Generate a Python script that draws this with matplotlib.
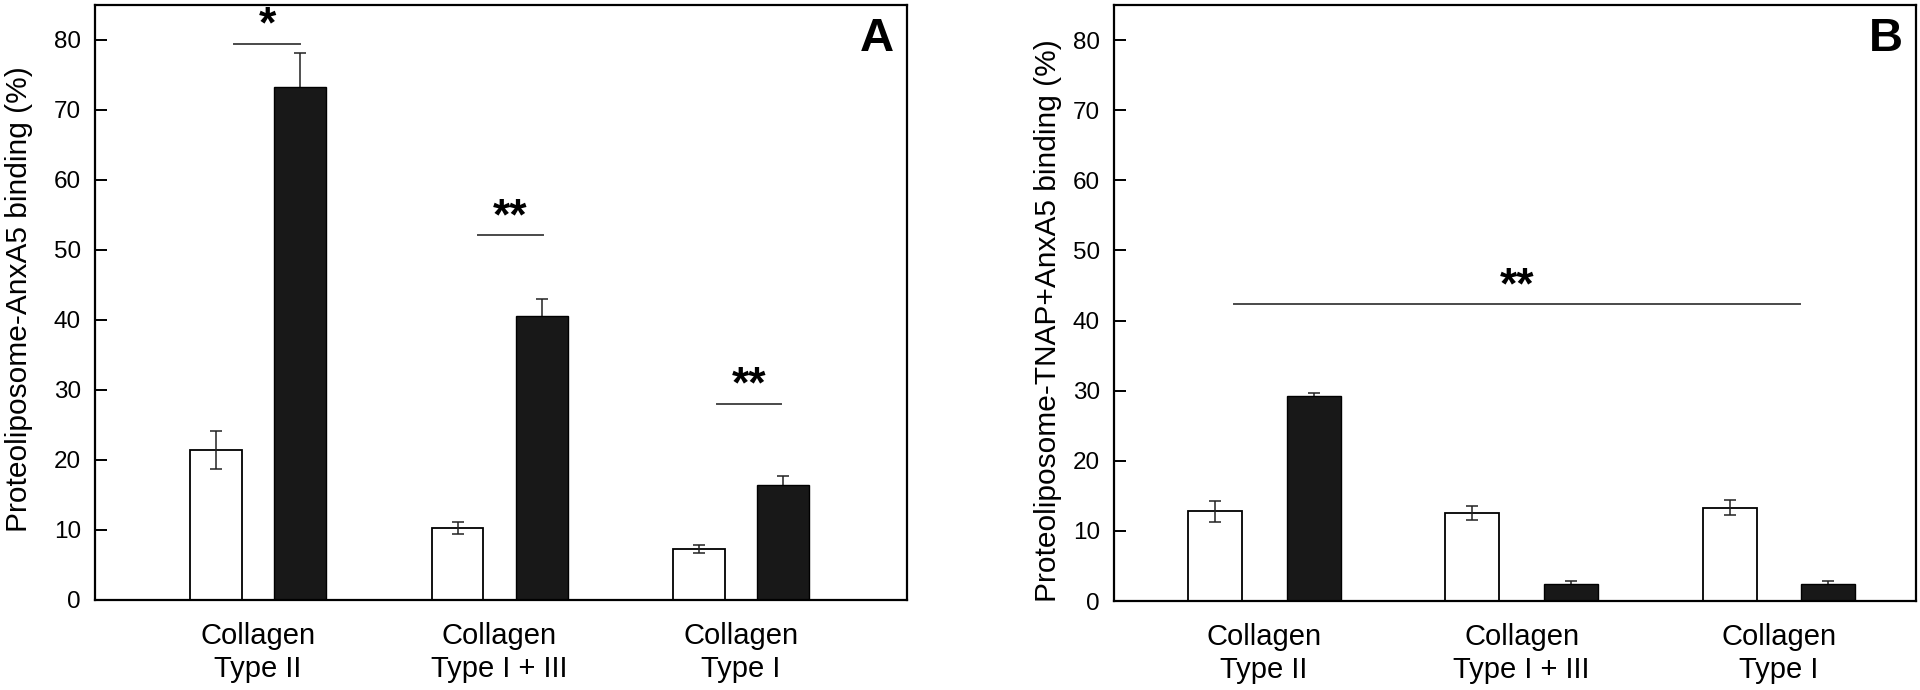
import numpy as np
import matplotlib
matplotlib.use('Agg')
import matplotlib.pyplot as plt

plt.rcParams['font.family'] = ['Liberation Sans', 'DejaVu Sans']

# data
groups = ['Collagen\nType II', 'Collagen\nType I + III', 'Collagen\nType I']

a_white = [21.4, 10.3, 7.3]
a_white_err = [2.7, 0.8, 0.6]
a_black = [73.3, 40.6, 16.5]
a_black_err = [4.8, 2.4, 1.25]

b_white = [12.8, 12.6, 13.3]
b_white_err = [1.5, 1.0, 1.1]
b_black = [29.3, 2.45, 2.45]
b_black_err = [0.4, 0.45, 0.45]

# significance bars: (x start, x end, y, label)
a_sig = [(-0.10, 0.175, 79.5, '*'), (0.91, 1.18, 52.1, '**'), (1.90, 2.165, 28.0, '**')]
b_sig = [(-0.117, 2.08, 42.3, '**')]

yticks = [0, 10, 20, 30, 40, 50, 60, 70, 80]

fig = plt.figure(figsize=(19.2, 6.9), dpi=100)
W, H = 1920, 690
axA = fig.add_axes([95 / W, 1 - 600 / H, 812 / W, 595 / H])
axB = fig.add_axes([1114 / W, 1 - 601 / H, 802 / W, 596 / H])


def draw_panel(ax, white, werr, black, berr, offset, width, xlim, sig, ylabel, letter, lx, ly):
    x = np.arange(len(groups))
    ax.bar(x - offset, white, width, color='white', edgecolor='black', linewidth=1.3, zorder=2)
    ax.bar(x + offset, black, width, color='#181818', edgecolor='black', linewidth=1.0, zorder=2)
    ax.errorbar(x - offset, white, yerr=werr, fmt='none', ecolor='#222222',
                elinewidth=1.1, capsize=4, capthick=1.1, zorder=3)
    # lower half hides behind the black bar, as in the original
    ax.errorbar(x + offset, black, yerr=berr, fmt='none', ecolor='#222222',
                elinewidth=1.1, capsize=4, capthick=1.1, zorder=1)
    for x0, x1, y, lab in sig:
        ax.plot([x0, x1], [y, y], color='#4a4a4a', lw=1.4, zorder=3)
        ax.text((x0 + x1) / 2, y + 0.9, lab, ha='center', va='baseline', fontsize=32,
                fontweight='bold')
    ax.set_xlim(*xlim)
    ax.set_ylim(0, 85)
    ax.set_yticks(yticks)
    ax.set_xticks(x)
    ax.set_xticklabels(groups, fontsize=21, linespacing=1.2)
    ax.tick_params(axis='x', length=0, pad=16)
    ax.tick_params(axis='y', direction='in', length=8.6, width=1.4, pad=10, labelsize=17.5)
    for s in ax.spines.values():
        s.set_linewidth(1.6)
    ax.set_ylabel(ylabel, fontsize=21.5)
    ax.yaxis.set_label_coords(lx, ly)
    ax.text(0.963, 0.943, letter, transform=ax.transAxes, ha='center', va='center',
            fontsize=34, fontweight='bold')


draw_panel(axA, a_white, a_white_err, a_black, a_black_err, 0.174, 0.215, (-0.675, 2.687),
           a_sig, 'Proteoliposome-AnxA5 binding (%)', 'A', -0.0764, 0.505)
draw_panel(axB, b_white, b_white_err, b_black, b_black_err, 0.192, 0.21, (-0.583, 2.532),
           b_sig, 'Proteoliposome-TNAP+AnxA5 binding (%)', 'B', -0.0648, 0.47)

fig.savefig('out.png', dpi=100)
